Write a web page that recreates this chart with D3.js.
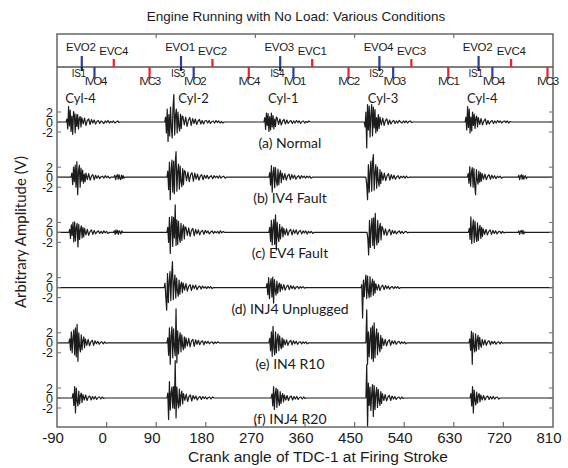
<!DOCTYPE html>
<html>
<head>
<meta charset="utf-8">
<script src="https://cdn.jsdelivr.net/npm/d3@7"></script>
<style>
    body { margin: 0; background: #fff; }
    text { fill: #1a1a1a; }
</style>
</head>
<body>
<script>
const width = 568
const height = 468

// valve / injection events (crank degrees) and their names
const evoDeg = [-45, 135, 315, 495, 675]
const evoLab = ["EVO2", "EVO1", "EVO3", "EVO4", "EVO2"]
const isLab = ["IS1", "IS3", "IS4", "IS2", "IS1"]
const evcDeg = [13, 192, 373, 553, 734]
const evcLab = ["EVC4", "EVC2", "EVC1", "EVC3", "EVC4"]
const ivoDeg = [-22, 158, 339, 520, 700]
const ivoLab = ["IVO4", "IVO2", "IVO1", "IVO3", "IVO4"]
const ivcDeg = [78, 258, 439, 620, 800]
const ivcLab = ["IVC3", "IVC4", "IVC2", "IVC1", "IVC3"]

const cylDeg = [-75, 130, 293, 474, 654]
const cylLab = ["Cyl-4", "Cyl-2", "Cyl-1", "Cyl-3", "Cyl-4"]

const xTicks = [-90, 0, 90, 180, 270, 360, 450, 540, 630, 720, 810]
const topTicks = [90, 270, 450, 630]
const ampTicks = [2, 0, -2]

const conditions = ["(a) Normal", "(b) IV4 Fault", "(c) EV4 Fault", "(d) INJ4 Unplugged", "(e) IN4 R10", "(f) INJ4 R20"]

// bursts: [start deg, samples every 1.5 deg, tail samples every 2.5 deg]  (V)
const normal = [
    [-72, [0.6,-1.4,3.1,-0.8,2.4,-1.9,1.2,-2.5,2.1,1.4,-2.2,1.6,-0.9,1.5,-1.4,0.7,1.1,-1.0],
          [0.9,-0.4,0.8,-0.7,0.3,0.6,-0.5,0.5,-0.2,0.4,-0.4,0.1,0.3,-0.3,0.2,0.0,-0.3,0.2,-0.1,0.3,-0.2,0.1,-0.1,0.2,-0.2,0.0,0.2,-0.1]],
    [107, [1.0,-2.2,2.6,-3.9,1.5,-2.8,3.0,-1.2,-3.2,2.9,5.5,-2.6,1.4,2.6,-2.2,2.0,-0.8,-1.8,1.6,-1.3,1.2],
          [1.1,-0.6,1.0,-0.9,0.4,0.9,-0.7,0.7,-0.3,0.6,-0.5,0.2,0.5,-0.4,0.3,-0.4,0.2,0.3,-0.2,0.3,-0.3,0.1,0.2,-0.2,0.3,-0.1,0.2,-0.2,0.1,-0.2]],
    [287, [0.9,-1.5,1.8,-0.7,1.7,-1.9,1.1,-1.6,1.8,-1.0,1.3,-1.4,0.6,-0.9,1.0],
          [0.8,-0.5,0.6,-0.6,0.2,0.5,-0.4,0.4,-0.3,0.1,0.3,-0.3,0.2,-0.2,0.3,-0.1,0.2,-0.3,0.1,0.2,-0.2,0.1,-0.1,0.2]],
    [469, [-1.0,2.0,-5.2,3.5,-1.6,3.2,-3.0,1.4,3.5,-2.8,3.0,-1.2,2.5,-2.2,0.9,-1.8,1.5,-1.3],
          [1.0,-0.6,0.8,-0.7,0.3,0.6,-0.5,0.4,-0.4,0.1,0.3,-0.3,0.2,-0.2,0.3,0.0,-0.2,0.2,-0.1,0.2,-0.2,0.1,0.2,-0.1]],
    [652, [1.0,-1.6,3.1,-1.1,2.6,-2.2,1.0,-1.8,2.0,-0.7,1.6,-1.3,0.8,1.2,-1.0],
          [0.9,-0.5,0.7,-0.6,0.2,0.6,-0.5,0.3,-0.4,0.1,0.3,-0.3,0.2,-0.2,0.3,-0.1,0.2,-0.2,0.1,0.2,-0.1,0.2,-0.2,0.1]],
]
const iv4Fault = [
    [-63, [0.8,-1.5,2.0,-0.9,2.4,-2.0,3.1,-3.5,1.2,2.4,-2.0,1.8,-0.8,1.4,-1.2,0.6,-0.9],
          [0.8,-0.5,0.7,-0.6,0.2,0.5,-0.5,0.4,-0.2,0.3,-0.3,0.1,0.2,-0.2,0.3,-0.1,0.2,-0.2]],
    [15, [0.4,-0.5,0.2,0.5,-0.4,0.5,-0.2,-0.5,0.4,-0.3,0.3,-0.2], []],
    [111, [1.2,-2.5,3.0,-4.5,1.4,3.4,-3.0,3.2,-3.3,2.9,5.1,-2.8,1.2,2.6,-2.4,2.2,-0.9,-1.9,1.7,-1.5,1.3],
          [1.2,-0.7,1.0,-0.9,0.5,0.9,-0.8,0.8,-0.4,0.6,-0.6,0.2,0.5,-0.5,0.4,-0.2,0.4,-0.3,0.1,0.3,-0.3,0.3,-0.1,0.2,-0.2,0.3,-0.2,0.1,0.2,-0.2]],
    [296, [0.9,-1.6,2.3,-3.0,0.8,2.0,-2.1,1.9,-0.7,-1.7,1.6,-1.5,0.6,1.3,-1.1],
          [0.8,-0.5,0.7,-0.6,0.3,0.6,-0.5,0.5,-0.2,0.4,-0.4,0.1,0.3,-0.3,0.3,-0.1,0.2,-0.2,0.2,-0.1,0.2,-0.2]],
    [472, [-1.5,-4.5,2.5,-3.0,1.1,3.2,-2.8,3.0,4.5,-2.6,1.0,2.5,-2.2,2.0,-0.8,-1.8,1.5,-1.3],
          [1.0,-0.6,0.8,-0.7,0.3,0.7,-0.6,0.5,-0.3,0.4,-0.4,0.1,0.3,-0.3,0.2,-0.1,0.2,-0.2,0.2,-0.1]],
    [656, [0.7,-1.2,2.1,-1.8,0.9,1.9,-2.0,1.7,-1.6,-3.5,1.5,-0.6,-1.4,1.2,-1.0,0.9,-0.8],
          [0.7,-0.4,0.6,-0.5,0.2,0.5,-0.4,0.4,-0.2,0.3,-0.3,0.2,-0.1,0.2,-0.2]],
    [748, [0.4,-0.5,0.2,0.5,-0.4,0.4,-0.4,0.1,0.3,-0.3], []],
]
const ev4Fault = [
    [-67, [0.6,-1.2,1.5,-0.6,2.0,-1.9,2.1,-1.7,1.0,1.8,-2.9,1.6,-1.4,0.5,1.3,-1.1,1.0,-0.9],
          [0.8,-0.5,0.6,-0.6,0.2,0.5,-0.4,0.4,-0.3,0.1,0.3,-0.2,0.2,-0.2,0.3,-0.1,0.2,-0.2]],
    [14, [0.3,-0.4,0.5,-0.2,0.4,-0.4,0.3,0.1,-0.3,0.3], []],
    [111, [1.0,-2.0,3.0,-4.2,1.2,3.2,-2.8,3.0,-1.1,5.5,-2.6,2.5,-2.4,2.2,-0.9,-2.0,1.8,-1.6,0.7,1.5,-1.3,1.1],
          [1.0,-0.6,0.9,-0.8,0.4,0.8,-0.7,0.6,-0.3,0.5,-0.5,0.2,0.4,-0.4,0.4,-0.1,0.3,-0.3,0.1,0.3,-0.2,0.2,-0.1,0.2,-0.2,0.3,-0.1,0.2]],
    [296, [1.0,-1.8,2.4,-2.5,1.0,2.6,-2.4,3.5,-3.5,2.0,-0.8,-1.8,1.6,-1.3,0.5,1.1,-0.9],
          [0.8,-0.5,0.7,-0.6,0.3,0.6,-0.5,0.5,-0.2,0.5,-0.4,0.2,0.4,-0.3,0.3,-0.1,0.3,-0.3,0.2,-0.1,0.2,-0.2]],
    [474, [-1.2,-4.5,2.4,-3.0,1.0,2.8,-2.6,2.9,-3.2,3.8,-1.0,-2.5,2.4,-2.0,0.8,1.8,-1.5,1.2],
          [0.9,-0.5,0.7,-0.6,0.2,0.6,-0.5,0.4,-0.2,0.3,-0.3,0.1,0.3,-0.2,0.2,-0.2,0.1,0.2,-0.1]],
    [658, [0.8,-1.4,3.1,-2.2,0.9,2.5,-2.0,2.2,-0.7,-1.8,1.9,-1.6,0.6,1.4,-1.2,1.0,-0.8],
          [0.7,-0.4,0.6,-0.5,0.2,0.5,-0.4,0.4,-0.2,0.3,-0.3,0.1,0.2,-0.2,0.2,-0.1]],
    [748, [0.3,-0.4,0.2,0.4,-0.3,0.4,-0.3,0.1], []],
]
const inj4Unplugged = [
    [106, [0.9,-2.0,-4.5,2.8,-3.0,1.1,3.2,-2.6,2.5,5.2,-2.4,1.0,2.5,-2.1,1.9,-0.7,-1.7,1.5,-1.3,0.6,1.1,-1.0],
          [0.9,-0.5,0.8,-0.7,0.3,0.6,-0.6,0.5,-0.2,0.5,-0.4,0.1,0.3,-0.3,0.3,-0.1,0.2,-0.2,0.2,-0.1,0.2,-0.2]],
    [291, [0.8,-1.4,2.0,-2.2,0.7,1.8,-1.9,2.1,-3.1,1.6,-0.6,-1.5,1.3,-1.1,0.4,0.9,-0.8],
          [0.7,-0.4,0.6,-0.5,0.2,0.5,-0.4,0.4,-0.2,0.3,-0.3,0.1,0.2,-0.2,0.2,-0.1,0.2,-0.1]],
    [463, [0.6,-6.1,1.5,-1.8,0.8,2.5,-2.2,2.3,-0.9,-2.0,2.2,-1.8,0.6,1.7,-1.5,1.3,-1.1],
          [0.8,-0.5,0.6,-0.6,0.2,0.5,-0.4,0.4,-0.2,0.3,-0.3,0.1,0.2,-0.2,0.2,-0.1,0.2,-0.2]],
]
const in4R10 = [
    [-67, [0.8,-1.5,2.2,-2.0,0.9,2.6,-2.4,3.0,-2.8,3.7,-3.7,2.0,-0.8,-1.8,1.6,-1.4,0.5,1.2,-1.0],
          [0.8,-0.5,0.7,-0.6,0.2,0.5,-0.5,0.4,-0.2,0.3,-0.3,0.1,0.2,-0.2,0.2,-0.1]],
    [111, [1.0,-2.5,3.0,-4.3,1.2,3.2,-3.0,2.8,-1.0,-2.6,6.8,-4.0,2.4,-2.2,0.8,2.0,-1.8,1.6,-0.6,-1.4,1.2,-1.0],
          [1.0,-0.6,0.9,-0.8,0.4,0.7,-0.7,0.6,-0.3,0.5,-0.4,0.2,0.4,-0.4,0.3,-0.1,0.3,-0.2,0.1,0.2,-0.2,0.2,-0.1,0.2]],
    [296, [0.9,-1.6,2.2,-2.7,3.3,-1.0,-2.4,2.2,-2.0,0.7,1.8,-1.6,1.4,-0.5,-1.2,1.0,-0.9],
          [0.7,-0.4,0.6,-0.5,0.2,0.5,-0.4,0.4,-0.2,0.3,-0.3,0.1,0.2,-0.2,0.2,-0.1,0.2,-0.2]],
    [472, [6.6,-4.3,2.2,-2.8,1.0,3.0,-3.2,3.4,-3.7,4.0,-3.0,1.1,2.8,-2.4,2.0,-0.7,-1.8,1.5,-1.2],
          [0.9,-0.5,0.7,-0.6,0.3,0.6,-0.5,0.4,-0.2,0.4,-0.3,0.1,0.3,-0.2,0.2,-0.1,0.2,-0.2]],
    [659, [0.8,-1.5,2.3,-4.3,2.0,-0.7,-1.8,1.8,-1.6,0.6,1.5,-1.3,1.1,-0.4,-0.9],
          [0.7,-0.4,0.6,-0.5,0.2,0.4,-0.4,0.3,-0.2,0.3,-0.3,0.1,0.2,-0.2,0.2,-0.1]],
]
const inj4R20 = [
    [-61, [0.9,-1.5,2.3,-3.0,2.0,-0.6,-1.6,1.4,-1.2,0.5,1.0,-0.9],
          [0.7,-0.4,0.6,-0.5,0.2,0.4,-0.4,0.3,-0.2,0.3,-0.3,0.1,0.2,-0.2,0.2,-0.1]],
    [111, [1.0,-4.3,3.3,-2.4,0.9,2.2,-2.0,2.3,-2.1,7.5,-4.0,2.2,-0.8,-2.0,1.8,-1.6,0.6,1.4,-1.2],
          [0.9,-0.5,0.8,-0.7,0.3,0.6,-0.6,0.5,-0.2,0.4,-0.4,0.1,0.3,-0.3,0.3,-0.1,0.2,-0.2,0.1,0.2,-0.2,0.2]],
    [300, [0.8,-1.6,2.3,-2.3,0.8,2.0,-1.9,1.7,-0.6,-1.5,1.3,-1.1,0.4,0.9,-0.8],
          [0.6,-0.4,0.5,-0.5,0.2,0.4,-0.4,0.3,-0.2,0.3,-0.3,0.1,0.2,-0.2,0.2,-0.1]],
    [472, [6.7,-5.8,3.0,-1.5,2.2,-2.5,0.9,2.7,-3.7,2.5,-2.3,0.8,2.1,-1.9,1.7,-0.6,-1.5,1.3,-1.1],
          [0.9,-0.5,0.7,-0.6,0.2,0.5,-0.5,0.4,-0.2,0.3,-0.3,0.1,0.2,-0.2,0.2,-0.1]],
    [661, [0.9,-1.6,2.3,-3.0,1.6,-0.5,-1.4,1.2,-1.0,0.4,0.9,-0.8],
          [0.6,-0.4,0.5,-0.4,0.2,0.4,-0.3,0.3,-0.2,0.3,-0.2,0.1,0.2,-0.2]],
]
const traces = [normal, iv4Fault, ev4Fault, inj4Unplugged, in4R10, inj4R20]

const STEP = 1.5
const TAIL_STEP = 2.5

const plotLeft = 57
const plotRight = 553
const plotTop = 34
const eventLine = 67
const plotBottom = 427

const x = d3.scaleLinear().domain([-90, 810]).range([plotLeft, plotRight])
const base = d3.scalePoint().domain(conditions).range([122, 398])
const amp = d3.scaleLinear().domain([-2, 2]).range([10, -10])

const svg = d3
    .select("body")
    .append("svg")
    .attr("width", width)
    .attr("height", height)
    .attr("viewBox", [0, 0, width, height])

// title and axis labels
svg.append("text")
    .attr("x", 296)
    .attr("y", 21)
    .attr("text-anchor", "middle")
    .attr("font-family", "Liberation Sans, Arial, sans-serif")
    .attr("font-size", 13.5)
    .text("Engine Running with No Load: Various Conditions")

svg.append("text")
    .attr("x", 318)
    .attr("y", 462)
    .attr("text-anchor", "middle")
    .attr("font-family", "Liberation Sans, Arial, sans-serif")
    .attr("font-size", 15.5)
    .text("Crank angle of TDC-1 at Firing Stroke")

svg.append("text")
    .attr("transform", "translate(26,232) rotate(-90)")
    .attr("text-anchor", "middle")
    .attr("font-family", "Lato, sans-serif")
    .attr("font-size", 15)
    .text("Arbitrary Amplitude (V)")

// traces
const line = d3
    .line()
    .x((d) => x(d[0]))
    .y((d) => d[1])

traces.forEach((bursts, k) => {
    const y0 = base(conditions[k])
    const pts = [[-90, y0]]
    bursts.forEach(([at, core, tail]) => {
        pts.push([at - STEP, y0])
        core.forEach((v, i) => pts.push([at + i * STEP, y0 + amp(v)]))
        const t0 = at + core.length * STEP
        tail.forEach((v, i) => pts.push([t0 + i * TAIL_STEP, y0 + amp(v)]))
        pts.push([t0 + tail.length * TAIL_STEP, y0])
    })
    pts.push([810, y0])
    svg.append("path")
        .attr("d", line(pts))
        .attr("fill", "none")
        .attr("stroke", "#1c1c1c")
        .attr("stroke-width", 1.2)
        .attr("stroke-linejoin", "round")
})

// frame
const frame = svg.append("g").attr("stroke", "#707070").attr("fill", "none")
frame.append("rect")
    .attr("x", plotLeft)
    .attr("y", plotTop)
    .attr("width", plotRight - plotLeft)
    .attr("height", plotBottom - plotTop)
    .attr("stroke-width", 1.6)
frame.append("line")
    .attr("x1", plotLeft)
    .attr("x2", plotRight)
    .attr("y1", eventLine)
    .attr("y2", eventLine)
    .attr("stroke", "#555")
    .attr("stroke-width", 1.3)

frame.selectAll("line.xt")
    .data(xTicks.slice(1, -1))
    .join("line")
    .attr("x1", (d) => x(d))
    .attr("x2", (d) => x(d))
    .attr("y1", plotBottom)
    .attr("y2", plotBottom - 5)
    .attr("stroke-width", 1.2)

frame.selectAll("line.tt")
    .data(topTicks)
    .join("line")
    .attr("x1", (d) => x(d))
    .attr("x2", (d) => x(d))
    .attr("y1", plotTop)
    .attr("y2", plotTop + 4)
    .attr("stroke-width", 1.2)

svg.append("g")
    .attr("font-family", "Liberation Sans, Arial, sans-serif")
    .attr("font-size", 15)
    .attr("text-anchor", "middle")
    .selectAll("text")
    .data(xTicks)
    .join("text")
    .attr("x", (d) => x(d) - 4)
    .attr("y", 443)
    .text((d) => d)

// amplitude ticks per trace
conditions.forEach((c) => {
    const y0 = base(c)
    frame.append("g")
        .selectAll("line")
        .data(ampTicks)
        .join("line")
        .attr("x1", plotRight)
        .attr("x2", plotRight - 4)
        .attr("y1", (d) => y0 + amp(d))
        .attr("y2", (d) => y0 + amp(d))
    frame.append("g")
        .selectAll("line")
        .data(ampTicks)
        .join("line")
        .attr("x1", plotLeft)
        .attr("x2", plotLeft + 4)
        .attr("y1", (d) => y0 + amp(d))
        .attr("y2", (d) => y0 + amp(d))
    svg.append("g")
        .attr("font-family", "Liberation Sans, Arial, sans-serif")
        .attr("font-size", 12.5)
        .attr("text-anchor", "end")
        .selectAll("text")
        .data(ampTicks)
        .join("text")
        .attr("x", 53)
        .attr("y", (d) => y0 + amp(d))
        .attr("dy", "0.36em")
        .text((d) => d)
})

// condition labels
svg.append("g")
    .attr("font-family", "Lato, sans-serif")
    .attr("font-size", 14)
    .attr("text-anchor", "middle")
    .selectAll("text")
    .data(conditions)
    .join("text")
    .attr("x", 290)
    .attr("y", (d) => base(d) + 26)
    .text((d) => d)

// cylinder labels
svg.append("g")
    .attr("font-family", "Lato, sans-serif")
    .attr("font-size", 13)
    .selectAll("text")
    .data(cylDeg)
    .join("text")
    .attr("x", (d) => x(d))
    .attr("y", 103)
    .text((d, i) => cylLab[i])

// event markers
const blue = "#2b3f9e"
const red = "#e8212b"
const ev = svg.append("g").attr("stroke-width", 2.2)

ev.selectAll("line.evo")
    .data(evoDeg)
    .join("line")
    .attr("x1", (d) => x(d))
    .attr("x2", (d) => x(d))
    .attr("y1", eventLine - 11)
    .attr("y2", eventLine)
    .attr("stroke", blue)
ev.selectAll("line.is")
    .data(evoDeg)
    .join("line")
    .attr("x1", (d) => x(d))
    .attr("x2", (d) => x(d))
    .attr("y1", eventLine)
    .attr("y2", eventLine + 4)
    .attr("stroke", "#222")
ev.selectAll("line.evc")
    .data(evcDeg)
    .join("line")
    .attr("x1", (d) => x(d))
    .attr("x2", (d) => x(d))
    .attr("y1", eventLine - 8)
    .attr("y2", eventLine)
    .attr("stroke", red)
ev.selectAll("line.ivo")
    .data(ivoDeg)
    .join("line")
    .attr("x1", (d) => x(d))
    .attr("x2", (d) => x(d))
    .attr("y1", eventLine)
    .attr("y2", eventLine + 11)
    .attr("stroke", blue)
ev.selectAll("line.ivc")
    .data(ivcDeg)
    .join("line")
    .attr("x1", (d) => x(d))
    .attr("x2", (d) => x(d))
    .attr("y1", eventLine)
    .attr("y2", eventLine + 11)
    .attr("stroke", red)

const lab = svg
    .append("g")
    .attr("font-family", "Liberation Sans, Arial, sans-serif")
    .attr("font-size", 11.5)
    .attr("text-anchor", "middle")
    .attr("letter-spacing", -0.3)

lab.selectAll("text.evo")
    .data(evoDeg)
    .join("text")
    .attr("x", (d) => x(d) - 1)
    .attr("y", 51)
    .text((d, i) => evoLab[i])
lab.selectAll("text.evc")
    .data(evcDeg)
    .join("text")
    .attr("x", (d) => x(d))
    .attr("y", 55)
    .text((d, i) => evcLab[i])
lab.selectAll("text.ivo")
    .data(ivoDeg)
    .join("text")
    .attr("x", (d) => x(d) + 1)
    .attr("y", 85)
    .attr("letter-spacing", -1.2)
    .text((d, i) => ivoLab[i])
lab.selectAll("text.ivc")
    .data(ivcDeg)
    .join("text")
    .attr("x", (d) => x(d))
    .attr("y", 85)
    .attr("letter-spacing", -1.2)
    .text((d, i) => ivcLab[i])
lab.selectAll("text.is")
    .data(evoDeg)
    .join("text")
    .attr("x", (d) => x(d) - 3)
    .attr("y", 77)
    .attr("font-size", 10)
    .text((d, i) => isLab[i])
</script>
</body>
</html>
